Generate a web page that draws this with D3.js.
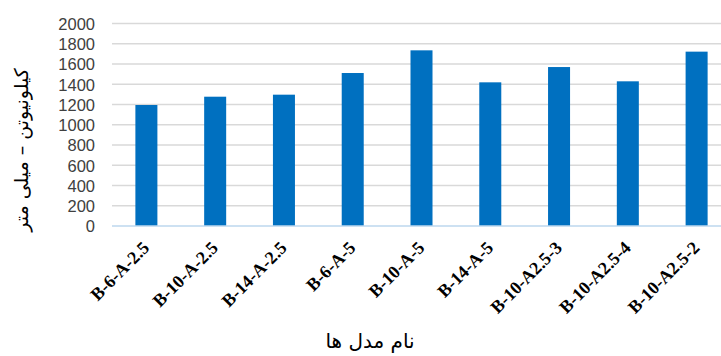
<!DOCTYPE html>
<html>
<head>
<meta charset="utf-8">
<script src="https://cdn.jsdelivr.net/npm/d3@7"></script>
<style>
  html, body { margin: 0; padding: 0; background: #fff; }
  svg { display: block; }
</style>
</head>
<body>
<svg id="chart" width="721" height="356"></svg>
<script>
// Model names and their measured values (kN·mm)
const models = ["B-6-A-2.5", "B-10-A-2.5", "B-14-A-2.5", "B-6-A-5", "B-10-A-5",
                "B-14-A-5", "B-10-A2.5-3", "B-10-A2.5-4", "B-10-A2.5-2"];
const values = [1195, 1277, 1297, 1511, 1735, 1419, 1570, 1429, 1722];
const yTicks = [0, 200, 400, 600, 800, 1000, 1200, 1400, 1600, 1800, 2000];
const yTitle = "کیلونیوتن – میلی متر";
const xTitle = "نام مدل ها";

const svg = d3.select("#chart");
const plot = { left: 112, right: 731, top: 23.5, bottom: 226 };

const x = d3.scaleBand()
  .domain(models)
  .range([plot.left, plot.right])
  .paddingInner(0.68)
  .paddingOuter(0.34);

const y = d3.scaleLinear()
  .domain([0, 2000])
  .range([plot.bottom, plot.top]);

// Horizontal gridlines
svg.append("g")
  .selectAll("line")
  .data(yTicks.filter(d => d > 0))
  .join("line")
  .attr("x1", plot.left)
  .attr("x2", plot.right)
  .attr("y1", d => y(d))
  .attr("y2", d => y(d))
  .attr("stroke", "#d9d9d9")
  .attr("stroke-width", 1.5);

// Bars
svg.append("g")
  .selectAll("rect")
  .data(models)
  .join("rect")
  .attr("x", d => x(d))
  .attr("width", x.bandwidth())
  .attr("y", (d, i) => y(values[i]))
  .attr("height", (d, i) => y(0) - y(values[i]))
  .attr("fill", "#0070c0");

// Baseline
svg.append("line")
  .attr("x1", plot.left)
  .attr("x2", plot.right)
  .attr("y1", y(0))
  .attr("y2", y(0))
  .attr("stroke", "#bdd7ee")
  .attr("stroke-width", 1.5);

// Y axis tick labels
const yAxis = d3.axisLeft(y).tickValues(yTicks).tickFormat(d3.format("d"))
  .tickSize(0).tickPadding(0);
const yg = svg.append("g")
  .attr("transform", `translate(95,0)`)
  .call(yAxis);
yg.select(".domain").remove();
yg.attr("font-size", null).attr("font-family", null);
yg.selectAll("text")
  .attr("font-family", "'Liberation Sans', Arial, sans-serif")
  .attr("font-size", 16.5)
  .attr("fill", "#404040")
  .attr("dy", "0.35em");

// Category labels, rotated 45° and ending just below each bar
svg.append("g")
  .selectAll("g")
  .data(models)
  .join("g")
  .attr("transform", d => `translate(${x(d) + x.bandwidth() / 2 + 4},${plot.bottom + 23}) rotate(-45)`)
  .append("text")
  .attr("text-anchor", "end")
  .attr("font-family", "'Liberation Serif', 'Times New Roman', serif")
  .attr("font-weight", "bold")
  .attr("font-size", 18)
  .attr("fill", "#000")
  .text(d => d);

// Axis titles
svg.append("g")
  .attr("transform", "translate(28,150) rotate(-90)")
  .append("text")
  .attr("text-anchor", "middle")
  .attr("direction", "rtl")
  .attr("font-family", "'DejaVu Sans', sans-serif")
  .attr("font-size", 19)
  .attr("fill", "#000")
  .text(yTitle);

svg.append("text")
  .attr("x", 370)
  .attr("y", 348)
  .attr("text-anchor", "middle")
  .attr("direction", "rtl")
  .attr("font-family", "'DejaVu Sans', sans-serif")
  .attr("font-size", 20)
  .attr("fill", "#000")
  .text(xTitle);
</script>
</body>
</html>
